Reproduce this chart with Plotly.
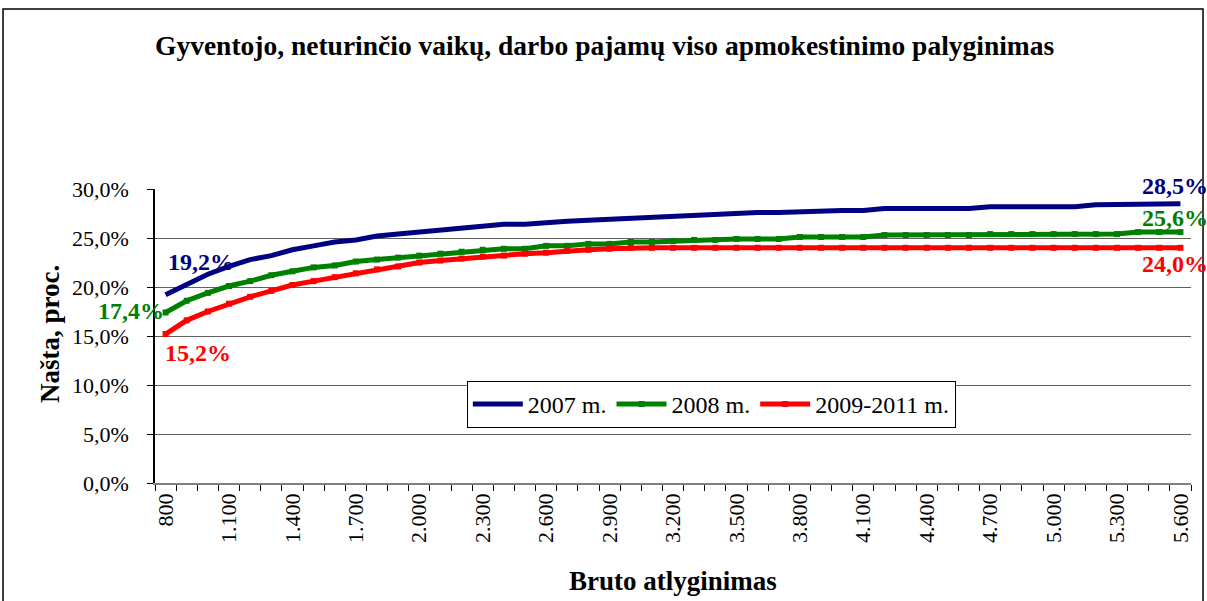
import plotly.graph_objects as go

# Categories: gross wage 800 .. 5600 step 100
wages = list(range(800, 5700, 100))
tick_wages = list(range(800, 5700, 300))
tick_text = ["800", "1.100", "1.400", "1.700", "2.000", "2.300", "2.600", "2.900", "3.200",
             "3.500", "3.800", "4.100", "4.400", "4.700", "5.000", "5.300", "5.600"]

y_ticks = [0, 5, 10, 15, 20, 25, 30]
y_tick_text = ["0,0%", "5,0%", "10,0%", "15,0%", "20,0%", "25,0%", "30,0%"]

series_names = ["2007 m.", "2008 m.", "2009-2011 m."]

burden_2007 = [19.2, 20.3, 21.3, 22.1, 22.8, 23.2, 23.8, 24.2, 24.6, 24.8,
               25.2, 25.4, 25.6, 25.8, 26.0, 26.2, 26.4, 26.4, 26.6, 26.7,
               26.8, 26.9, 27.0, 27.2, 27.3, 27.4, 27.4, 27.5, 27.6, 27.6,
               27.7, 27.8, 27.8, 27.8, 28.0, 28.0, 28.0, 28.0, 28.0, 28.2,
               28.2, 28.2, 28.2, 28.2, 28.4, 28.4, 28.5, 28.5, 28.5]
burden_2008 = [17.4, 18.6, 19.4, 20.1, 20.6, 21.2, 21.6, 22.0, 22.2, 22.6,
               22.8, 23.0, 23.2, 23.4, 23.6, 23.8, 23.9, 23.9, 24.2, 24.2,
               24.4, 24.4, 24.6, 24.6, 24.7, 24.8, 24.8, 24.9, 24.9, 24.9,
               25.1, 25.1, 25.1, 25.1, 25.3, 25.3, 25.3, 25.3, 25.3, 25.4,
               25.4, 25.4, 25.4, 25.4, 25.4, 25.4, 25.6, 25.6, 25.6]
burden_2009 = [15.2, 16.6, 17.5, 18.3, 19.0, 19.6, 20.2, 20.6, 21.0, 21.4,
               21.8, 22.1, 22.5, 22.7, 22.9, 23.1, 23.2, 23.4, 23.5, 23.7,
               23.8, 23.9, 24.0, 24.0, 24.0, 24.0, 24.0, 24.0, 24.0, 24.0,
               24.0, 24.0, 24.0, 24.0, 24.0, 24.0, 24.0, 24.0, 24.0, 24.0,
               24.0, 24.0, 24.0, 24.0, 24.0, 24.0, 24.0, 24.0, 24.0]

NAVY = "#000080"
GREEN = "#008000"
RED = "#FF0000"
SERIF = "Liberation Serif, Times New Roman, serif"

fig = go.Figure()
fig.add_trace(go.Scatter(x=wages, y=burden_2007, name=series_names[0], mode="lines",
                         line=dict(color=NAVY, width=5)))
fig.add_trace(go.Scatter(x=wages, y=burden_2008, name=series_names[1], mode="lines+markers",
                         line=dict(color=GREEN, width=5),
                         marker=dict(symbol="square", size=6, color=GREEN)))
fig.add_trace(go.Scatter(x=wages, y=burden_2009, name=series_names[2], mode="lines+markers",
                         line=dict(color=RED, width=5),
                         marker=dict(symbol="square", size=6, color=RED)))

def fmt(v):
    return f"{v:.1f}".replace(".", ",") + "%"

label_specs = [
    (wages[0], burden_2007[0], NAVY, 35, 33),
    (wages[0], burden_2008[0], GREEN, -35, 1),
    (wages[0], burden_2009[0], RED, 32, -19),
    (wages[-1], burden_2007[-1], NAVY, -5, 18),
    (wages[-1], burden_2008[-1], GREEN, -5, 14),
    (wages[-1], burden_2009[-1], RED, -5, -16),
]
annotations = []
for x, y, c, xs, ys in label_specs:
    annotations.append(dict(x=x, y=y, xref="x", yref="y", text=f"<b>{fmt(y)}</b>",
                            showarrow=False, xshift=xs, yshift=ys,
                            xanchor="center", yanchor="middle",
                            font=dict(family=SERIF, size=24, color=c)))

annotations.append(dict(x=0.5, y=1.0, xref="paper", yref="paper",
                        xanchor="center", yanchor="middle",
                        text="<b>Gyventojo, neturinčio vaikų, darbo pajamų viso apmokestinimo palyginimas</b>",
                        showarrow=False, yshift=144, xshift=-68,
                        font=dict(family=SERIF, size=27.5, color="black")))
annotations.append(dict(x=0, y=0.5, xref="paper", yref="paper", text="<b>Našta, proc.</b>",
                        xanchor="center", yanchor="middle",
                        showarrow=False, textangle=-90, xshift=-105, yshift=2,
                        font=dict(family=SERIF, size=27, color="black")))
annotations.append(dict(x=0.5, y=0, xref="paper", yref="paper", text="<b>Bruto atlyginimas</b>",
                        xanchor="center", yanchor="middle",
                        showarrow=False, yshift=-98, xshift=0,
                        font=dict(family=SERIF, size=27, color="black")))

fig.update_layout(
    width=1207, height=601,
    margin=dict(l=155, r=16, t=189, b=118),
    paper_bgcolor="white", plot_bgcolor="white",
    showlegend=True,
    legend=dict(orientation="h", x=0.301, y=0.347, xanchor="left", yanchor="top",
                bgcolor="white", bordercolor="black", borderwidth=1,
                font=dict(family=SERIF, size=24, color="black"),
                itemwidth=50, tracegroupgap=0),
    annotations=annotations,
    shapes=[dict(type="rect", xref="paper", yref="paper", x0=-0.1467, x1=1.0116,
                 y0=-0.45, y1=1.612, line=dict(color="black", width=1.5),
                 fillcolor="rgba(0,0,0,0)", layer="below")],
)

fig.update_xaxes(range=[750, 5650], tickmode="array", tickvals=tick_wages, ticktext=tick_text,
                 tickangle=-90, ticks="", showgrid=False, zeroline=False,
                 showline=True, linecolor="#808080", linewidth=1.5,
                 tickfont=dict(family=SERIF, size=22, color="black"),
                 minor=dict(tick0=750, dtick=100, ticks="outside", ticklen=6,
                            tickcolor="black", showgrid=False))

fig.update_yaxes(range=[0, 30], tickmode="array", tickvals=y_ticks, ticktext=y_tick_text,
                 ticks="outside", ticklen=6, tickcolor="black",
                 showgrid=True, gridcolor="#606060", gridwidth=1, zeroline=False,
                 showline=True, linecolor="black", linewidth=1.5,
                 ticklabelstandoff=14,
                 tickfont=dict(family=SERIF, size=22, color="black"))

fig.write_html("out.html", config={"displayModeBar": False},
               post_script="document.body.style.margin='0px';document.body.style.overflow='hidden';")
